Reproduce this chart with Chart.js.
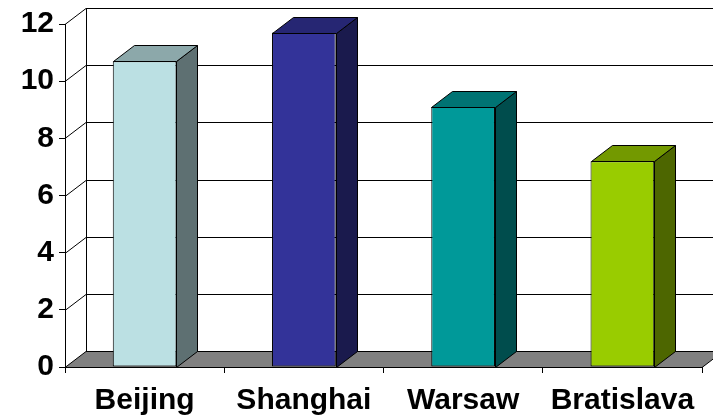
<!DOCTYPE html>
<html>
<head>
<meta charset="utf-8">
<script src="https://cdn.jsdelivr.net/npm/chart.js@4/dist/chart.umd.min.js"></script>
<style>
  html, body { margin: 0; padding: 0; background: #fff; }
  #wrap { width: 713px; height: 418px; }
</style>
</head>
<body>
<div id="wrap"><canvas id="chart"></canvas></div>
<script>
const cities = ['Beijing', 'Shanghai', 'Warsaw', 'Bratislava'];
const values = [10.7, 11.7, 9.1, 7.2];
const frontColors = ['#BBE0E3', '#333399', '#009999', '#99CC00'];
const topColors = ['#8CA8AA', '#262673', '#007373', '#739900'];
const sideColors = ['#5E7072', '#1A1A4D', '#004D4D', '#4D6600'];
const yTicks = [0, 2, 4, 6, 8, 10, 12];

// depth of the fake 3d box
const DX = 21, DY = -16;

const threeD = {
  id: 'threeD',
  beforeDatasetsDraw(chart) {
    const c = chart.ctx;
    const a = chart.chartArea;
    const y = chart.scales.y;
    c.save();
    c.lineWidth = 1;
    c.strokeStyle = '#000';
    // back wall and left wall grid
    yTicks.forEach(v => {
      const py = Math.round(y.getPixelForValue(v)) + 0.5;
      if (v > 0) {
        c.beginPath();
        c.moveTo(a.left, py);
        c.lineTo(a.left + DX, py + DY);
        c.lineTo(a.right + DX + 5, py + DY);
        c.stroke();
      }
    });
    const topY = Math.round(y.getPixelForValue(12)) + 0.5;
    const botY = Math.round(y.getPixelForValue(0)) + 0.5;
    c.beginPath();
    c.moveTo(a.left + DX + 0.5, topY + DY);
    c.lineTo(a.left + DX + 0.5, botY + DY);
    c.stroke();
    // floor
    c.beginPath();
    c.moveTo(a.left, botY);
    c.lineTo(a.right, botY);
    c.lineTo(a.right + DX, botY + DY);
    c.lineTo(a.left + DX, botY + DY);
    c.closePath();
    c.fillStyle = '#808080';
    c.fill();
    c.stroke();
    c.restore();
  },
  afterDatasetsDraw(chart) {
    const c = chart.ctx;
    const meta = chart.getDatasetMeta(0);
    c.save();
    c.lineWidth = 1;
    c.strokeStyle = '#000';
    c.lineJoin = 'round';
    meta.data.forEach((bar, i) => {
      const p = bar.getProps(['x', 'y', 'base', 'width'], true);
      const l = Math.round(p.x - p.width / 2) + 0.5;
      const r = Math.round(p.x + p.width / 2) + 0.5;
      const t = Math.round(p.y) + 0.5;
      const b = Math.round(p.base) + 0.5;
      // side
      c.beginPath();
      c.moveTo(r, t);
      c.lineTo(r + DX, t + DY);
      c.lineTo(r + DX, b + DY);
      c.lineTo(r, b);
      c.closePath();
      c.fillStyle = sideColors[i];
      c.fill();
      c.stroke();
      // top
      c.beginPath();
      c.moveTo(l, t);
      c.lineTo(l + DX, t + DY);
      c.lineTo(r + DX, t + DY);
      c.lineTo(r, t);
      c.closePath();
      c.fillStyle = topColors[i];
      c.fill();
      c.stroke();
    });
    c.restore();
  }
};

new Chart(document.getElementById('chart'), {
  type: 'bar',
  data: {
    labels: cities,
    datasets: [{
      data: values,
      backgroundColor: frontColors,
      borderColor: '#000',
      borderWidth: 1,
      borderSkipped: false,
      categoryPercentage: 1,
      barPercentage: 0.4
    }]
  },
  options: {
    responsive: true,
    maintainAspectRatio: false,
    animation: false,
    layout: { padding: { top: 24, right: 11, left: 0, bottom: 0 } },
    plugins: {
      legend: { display: false },
      tooltip: { enabled: false }
    },
    scales: {
      x: {
        afterFit: s => { s.height = 51; },
        grid: { offset: true, drawOnChartArea: false, tickLength: 6, color: '#000' },
        border: { display: true, color: '#000' },
        ticks: {
          color: '#000',
          padding: 10,
          maxRotation: 0,
          font: { family: 'Liberation Sans, Arial, sans-serif', size: 30, weight: 'bold' }
        }
      },
      y: {
        min: 0,
        max: 12,
        afterFit: s => { s.width = 65; },
        grid: { drawOnChartArea: false, tickLength: 6, color: '#000' },
        border: { display: true, color: '#000' },
        ticks: {
          stepSize: 2,
          color: '#000',
          padding: 5,
          font: { family: 'Liberation Sans, Arial, sans-serif', size: 30, weight: 'bold' }
        }
      }
    }
  },
  plugins: [threeD]
});
</script>
</body>
</html>
